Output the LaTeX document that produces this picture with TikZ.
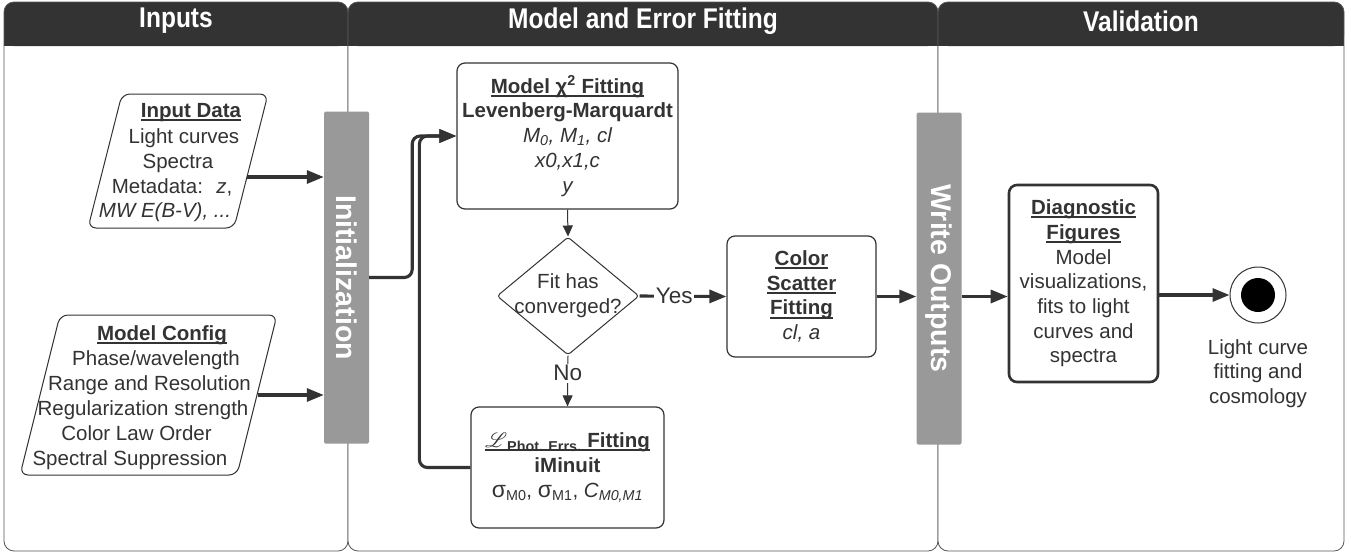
\documentclass[tikz,border=0pt]{standalone}
\usepackage{fontspec}
\setmainfont{Liberation Sans}
\newfontfamily\hfont{Liberation Sans}[FakeStretch=0.86]
\usepackage{mathrsfs}
\usetikzlibrary{shapes.geometric,arrows.meta}
\definecolor{ink}{HTML}{333333}
\definecolor{barc}{HTML}{999999}
\definecolor{lanec}{HTML}{555555}
\newcommand{\myul}[1]{\setbox0=\hbox{#1}\rlap{\rule[-3.6pt]{\wd0}{1.9pt}}\box0}
\begin{document}
\begin{tikzpicture}[x=1pt,y=-1pt,
  font=\fontsize{20.5}{24.7}\selectfont, text=ink,
  thk/.style={draw=ink, line width=3.1pt, -{Triangle[length=17pt,width=13pt]}},
  thn/.style={draw=ink, line width=1pt, -{Triangle[length=11pt,width=10pt]}},
  box/.style={draw=ink, line width=1.2pt, rounded corners=8pt, fill=white, align=center, inner sep=0pt},
  barbox/.style={fill=barc, rounded corners=1.5pt, minimum width=45pt, minimum height=332pt, inner sep=0pt},
  bartext/.style={rotate=-90, text=white, inner sep=0pt, font=\fontsize{28.5}{30}\selectfont\bfseries},
  headtxt/.style={text=white, inner sep=0pt, font=\fontsize{28.5}{30}\selectfont\hfont\bfseries},
  ptxt/.style={anchor=base, inner sep=0pt},
  lbl/.style={fill=white, inner sep=1.5pt, font=\fontsize{22.5}{26}\selectfont}]
\useasboundingbox (0,0) rectangle (1351,554);
\fill[white] (0,0) rectangle (1351,554);
% lanes
\foreach \a/\b in {4/348, 348/938, 938/1344} {
  \fill[white, rounded corners=10pt] (\a,2) rectangle (\b,551);
  \fill[ink, rounded corners=10pt] (\a,2) rectangle (\b,46);
  \fill[ink] (\a,30) rectangle (\b,46);
  \draw[lanec, line width=0.8pt, rounded corners=10pt] (\a,2) rectangle (\b,551);
}
\node[headtxt] (hin) at (176,21) {Inputs};
\node[headtxt] (hmod) at (643,21) {Model and Error Fitting};
\node[headtxt] (hval) at (1141,21) {Validation};

% Input Data parallelogram
\draw[ink, line width=1pt, rounded corners=8pt, fill=white] (122,94) -- (268,94) -- (234,228) -- (88,228) -- cycle;
\node[ptxt] (id1) at (191,117) {\bfseries\myul{Input Data}};
\node[ptxt] (id2) at (184,143) {Light curves};
\node[ptxt] (id3) at (178,168) {Spectra};
\node[ptxt] (id4) at (172,193) {Metadata:~ \textit{z},};
\node[ptxt] (id5) at (165,217) {\itshape MW E(B-V), ...};
\coordinate (inR) at (247,177);

% Model Config parallelogram
\draw[ink, line width=1pt, rounded corners=8pt, fill=white] (60,315) -- (277,315) -- (237,475) -- (20,475) -- cycle;
\node[ptxt] (mc1) at (162,340) {\bfseries\myul{Model Config}};
\node[ptxt] (mc2) at (156,365) {Phase/wavelength};
\node[ptxt] (mc3) at (149.5,390) {Range and Resolution};
\node[ptxt] (mc4) at (143,415) {Regularization strength};
\node[ptxt] (mc5) at (136.5,440) {Color Law Order};
\node[ptxt] (mc6) at (130,465) {Spectral Suppression};
\coordinate (mcR) at (258,395);

% bars
\node[barbox] (init) at (346.5,277.5) {};
\node[bartext] (initt) at (init.center) {Initialization};
\node[barbox] (wout) at (939,278.5) {};
\node[bartext] (woutt) at (wout.center) {Write Outputs};

% model column
\node[box, minimum width=221pt, minimum height=146pt] (model) at (567.5,136)
  {\bfseries\myul{Model χ\textsuperscript{2} Fitting}\\\bfseries Levenberg-Marquardt\\\itshape M\textsubscript{0}, M\textsubscript{1}, cl\\\itshape x0,x1,c\\\itshape y};
\node[draw=ink, line width=1pt, diamond, minimum width=142pt, minimum height=118pt, inner sep=0pt, rounded corners=3pt, fill=white] (dia) at (568,296) {};
\node[align=center, inner sep=0pt] (diat) at (dia.center) {Fit has\\converged?};
\node[box, minimum width=193pt, minimum height=121pt] (imin) at (567.5,467.5)
  {\bfseries\myul{$\mathscr{L}$\textsubscript{Phot. Errs.} Fitting}\\\bfseries iMinuit\\{\fontsize{23}{24.7}\selectfont σ}\textsubscript{M0}, {\fontsize{23}{24.7}\selectfont σ}\textsubscript{M1}, \textit{C}\textsubscript{\textit{M0,M1}}};
\node[box, minimum width=149pt, minimum height=121pt] (color) at (801.5,296.5)
  {\bfseries\myul{Color}\\\bfseries\myul{Scatter}\\\bfseries\myul{Fitting}\\\itshape cl, a};

% validation
\node[box, line width=2.6pt, minimum width=149pt, minimum height=197pt] (diag) at (1083.5,283.5)
  {\bfseries\myul{Diagnostic}\\\bfseries\myul{Figures}\\Model\\visualizations,\\fits to light\\curves and\\spectra};
\node[draw=ink, line width=1pt, circle, minimum size=56pt, inner sep=0pt, fill=white] (endc) at (1258,295) {};
\fill[black] (endc.center) circle[radius=17pt];
\node[align=center, inner sep=0pt] (endl) at (1258,373.5) {Light curve\\fitting and\\cosmology};

% connectors
\draw[thk] (inR) -- (inR -| init.west);
\draw[thk] (mcR) -- (mcR -| init.west);
\draw[thk, rounded corners=8pt] (init.east) -- ++(43,0) |- (model.west);
\draw[thk, rounded corners=8pt] (imin.west) -- ++(-51,0) |- (model.west);
\draw[thn] (model.south) -- (dia.north);
\draw[thk] (dia.east) -- node[lbl, pos=0.4] (yes) {Yes} (color.west);
\draw[thn] (dia.south) -- node[lbl, pos=0.35] (no) {No} (imin.north);
\draw[thk] (color.east) -- (color.east -| wout.west);
\draw[thk] (wout.east |- color.east) -- (diag.west |- color.east);
\draw[thk] (diag.east |- endc.west) -- (endc.west);
\end{tikzpicture}
\end{document}
